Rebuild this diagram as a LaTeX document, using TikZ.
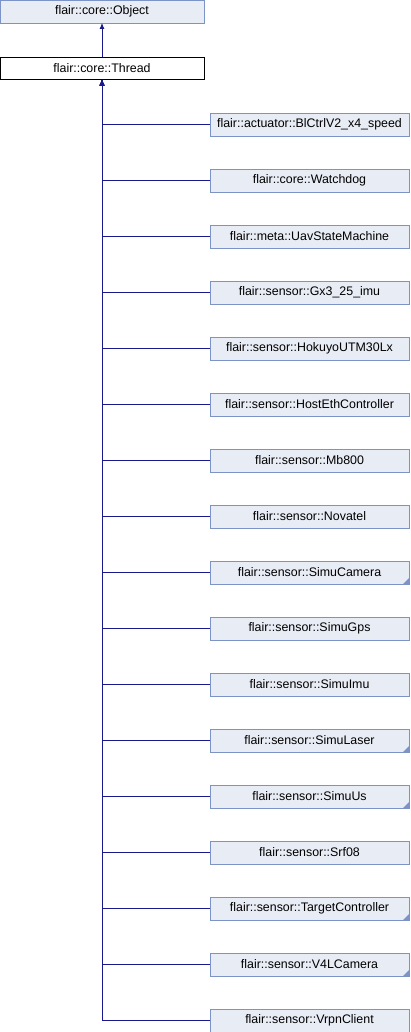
\documentclass[tikz,border=0pt]{standalone}
\usepackage{fontspec}
\setmainfont{Liberation Sans}
\definecolor{DoxFill}{RGB}{232, 236, 245}
\definecolor{DoxBorder}{RGB}{123, 147, 199}
\definecolor{DoxEdge}{RGB}{25, 25, 140}
\definecolor{DoxCorner}{RGB}{123, 147, 199}
\usepackage{tikz}
\usetikzlibrary{arrows.meta, positioning}
\tikzset{
  cls/.style={rectangle, draw=DoxBorder, fill=DoxFill, line width=0.8pt,
              minimum width=199pt, minimum height=23pt, inner sep=0pt, outer sep=0pt,
              font=\fontsize{12.4}{14}\selectfont, text=black, align=center},
  cur/.style={cls, draw=black, fill=white, minimum width=204pt, minimum height=22.5pt},
  more/.style={path picture={
      \fill[DoxCorner] (path picture bounding box.south east) -- ++(-6pt,0pt) -- ++(6pt,6pt) -- cycle;}},
  inh/.style={-{Latex[length=6pt, width=5pt]}, line width=0.8pt, color=DoxEdge},
}
\begin{document}
\begin{tikzpicture}[node distance=33pt]
  \useasboundingbox (0pt,0pt) rectangle (410pt,-1032pt);

  %% BASE CLASSES
  \node[cls, minimum width=204pt] (object) at (102pt,-11.5pt) {flair::core::Object};
  \node[cur, below=34pt of object] (thread) {flair::core::Thread};

  \draw[inh] (thread) -- (object);

  %% DERIVED CLASSES
  \node[cls] (bl) at (309.5pt,-124.5pt) {flair::actuator::BlCtrlV2\_x4\_speed};
  \node[cls, below=of bl] (wdog) {flair::core::Watchdog};
  \node[cls, below=of wdog] (uav) {flair::meta::UavStateMachine};
  \node[cls, below=of uav] (gx3) {flair::sensor::Gx3\_25\_imu};
  \node[cls, below=of gx3] (hokuyo) {flair::sensor::HokuyoUTM30Lx};
  \node[cls, below=of hokuyo] (hosteth) {flair::sensor::HostEthController};
  \node[cls, below=of hosteth] (mb800) {flair::sensor::Mb800};
  \node[cls, below=of mb800] (novatel) {flair::sensor::Novatel};
  \node[cls, more, below=of novatel] (simucam) {flair::sensor::SimuCamera};
  \node[cls, below=of simucam] (simugps) {flair::sensor::SimuGps};
  \node[cls, below=of simugps] (simuimu) {flair::sensor::SimuImu};
  \node[cls, more, below=of simuimu] (simulaser) {flair::sensor::SimuLaser};
  \node[cls, more, below=of simulaser] (simuus) {flair::sensor::SimuUs};
  \node[cls, below=of simuus] (srf08) {flair::sensor::Srf08};
  \node[cls, more, below=of srf08] (target) {flair::sensor::TargetController};
  \node[cls, more, below=of target] (v4l) {flair::sensor::V4LCamera};
  \node[cls, below=of v4l] (vrpn) {flair::sensor::VrpnClient};

  %% INHERITANCE EDGES
  \draw[inh] (bl.west)        -| (thread.south);
  \draw[inh] (wdog.west)      -| (thread.south);
  \draw[inh] (uav.west)       -| (thread.south);
  \draw[inh] (gx3.west)       -| (thread.south);
  \draw[inh] (hokuyo.west)    -| (thread.south);
  \draw[inh] (hosteth.west)   -| (thread.south);
  \draw[inh] (mb800.west)     -| (thread.south);
  \draw[inh] (novatel.west)   -| (thread.south);
  \draw[inh] (simucam.west)   -| (thread.south);
  \draw[inh] (simugps.west)   -| (thread.south);
  \draw[inh] (simuimu.west)   -| (thread.south);
  \draw[inh] (simulaser.west) -| (thread.south);
  \draw[inh] (simuus.west)    -| (thread.south);
  \draw[inh] (srf08.west)     -| (thread.south);
  \draw[inh] (target.west)    -| (thread.south);
  \draw[inh] (v4l.west)       -| (thread.south);
  \draw[inh] (vrpn.west)      -| (thread.south);

\end{tikzpicture}
\end{document}
